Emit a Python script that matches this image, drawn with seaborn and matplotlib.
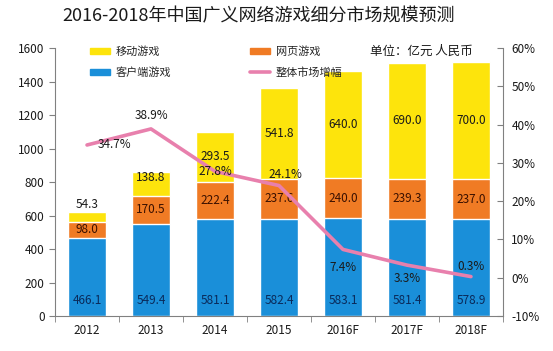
import matplotlib
matplotlib.use("Agg")
import matplotlib.pyplot as plt
import seaborn as sns
import pandas as pd
import numpy as np
from matplotlib.patches import Patch
from matplotlib.lines import Line2D

years = ["2012", "2013", "2014", "2015", "2016F", "2017F", "2018F"]
client = [466.1, 549.4, 581.1, 582.4, 583.1, 581.4, 578.9]
web = [98.0, 170.5, 222.4, 237.6, 240.0, 239.3, 237.0]
mobile = [54.3, 138.8, 293.5, 541.8, 640.0, 690.0, 700.0]
growth = [34.7, 38.9, 27.8, 24.1, 7.4, 3.3, 0.3]

sns.set_style("white")
plt.rcParams['font.family'] = ['Noto Sans CJK SC', 'DejaVu Sans']

c_blue = "#1a8fd9"
c_orange = "#f07b24"
c_yellow = "#fde40c"
c_pink = "#e880ad"
txt = "#1a1a1a"

df = pd.DataFrame({"year": years, "client": client, "web": web, "mobile": mobile})
df["cw"] = df["client"] + df["web"]
df["total"] = df["cw"] + df["mobile"]

fig = plt.figure(figsize=(5.53, 3.51), dpi=100)
ax = fig.add_axes([0.0995, 0.0997, 0.81, 0.763])

sns.barplot(data=df, x="year", y="total", color=c_yellow, width=0.58, ax=ax, saturation=1)
sns.barplot(data=df, x="year", y="cw", color=c_orange, width=0.58, ax=ax, saturation=1)
sns.barplot(data=df, x="year", y="client", color=c_blue, width=0.58, ax=ax, saturation=1)

ax.set_xlim(-0.5, 6.5)
ax.set_ylim(0, 1600)
ax.set_yticks(range(0, 1601, 200))
ax.set_xlabel("")
ax.set_ylabel("")
ax.tick_params(axis='y', labelsize=8.5, colors=txt, length=4, direction='out', left=True, color="#808080")
ax.tick_params(axis='x', labelsize=8.5, colors=txt, length=0, pad=6)
ax.set_xticks(np.arange(-0.5, 7, 1), minor=True)
ax.tick_params(axis='x', which='minor', length=4, bottom=True, color="#808080")
for s in ["top", "right"]:
    ax.spines[s].set_visible(False)
for s in ["left", "bottom"]:
    ax.spines[s].set_color("#808080")
    ax.spines[s].set_linewidth(0.8)

fs = 8.5
for i in range(len(years)):
    ax.text(i, 95, f"{client[i]:.1f}", ha="center", va="center", fontsize=fs, color="#0a2a5a")
    ax.text(i, client[i] + web[i] / 2, f"{web[i]:.1f}", ha="center", va="center", fontsize=fs, color="#3a1000")
    if i == 0:
        ax.text(i, client[i] + web[i] + mobile[i] + 45, f"{mobile[i]:.1f}", ha="center", va="center", fontsize=fs, color=txt)
    elif i == 1:
        ax.text(i, client[i] + web[i] + mobile[i] - 30, f"{mobile[i]:.1f}", ha="center", va="center", fontsize=fs, color=txt)
    else:
        ax.text(i, client[i] + web[i] + mobile[i] / 2, f"{mobile[i]:.1f}", ha="center", va="center", fontsize=fs, color=txt)

ax2 = ax.twinx()
sns.lineplot(x=list(range(len(years))), y=growth, ax=ax2, color=c_pink, linewidth=2.6)
ax2.set_ylim(-10, 60)
ax2.set_xlim(-0.5, 6.5)
ax2.set_yticks(range(-10, 61, 10))
ax2.set_yticklabels([f"{v}%" for v in range(-10, 61, 10)])
ax2.tick_params(axis='y', labelsize=8.5, colors=txt, length=4, direction='in', right=True, color="#808080", pad=6)
for s in ["top", "left", "bottom"]:
    ax2.spines[s].set_visible(False)
ax2.spines["right"].set_color("#808080")
ax2.spines["right"].set_linewidth(0.8)

offsets = [(0.43, 0.2), (0, 3.6), (0, 0.0), (0.1, 3.0), (0, -4.7), (0, -3.4), (0, 2.7)]
for i, g in enumerate(growth):
    dx, dy = offsets[i]
    ax2.text(i + dx, g + dy, f"{g}%", ha="center", va="center", fontsize=fs, color=txt)

handles = [Patch(color=c_yellow), Patch(color=c_blue), Patch(color=c_orange),
           Line2D([0], [0], color=c_pink, linewidth=2.6)]
labels = ["移动游戏", "客户端游戏", "网页游戏", "整体市场增幅"]
leg = ax.legend(handles, labels, ncol=2, loc="upper left", bbox_to_anchor=(0.055, 1.045),
                frameon=False, fontsize=8, handlelength=1.8, handleheight=0.45,
                handletextpad=0.5, columnspacing=7.15, labelspacing=0.9)

ax.text(0.933, 0.99, "单位：亿元 人民币", transform=ax.transAxes, ha="right", va="center", fontsize=9, color=txt)

fig.text(0.467, 0.955, "2016-2018年中国广义网络游戏细分市场规模预测", ha="center", va="center",
         fontsize=13, color=txt)

fig.savefig("out.png", dpi=100)
